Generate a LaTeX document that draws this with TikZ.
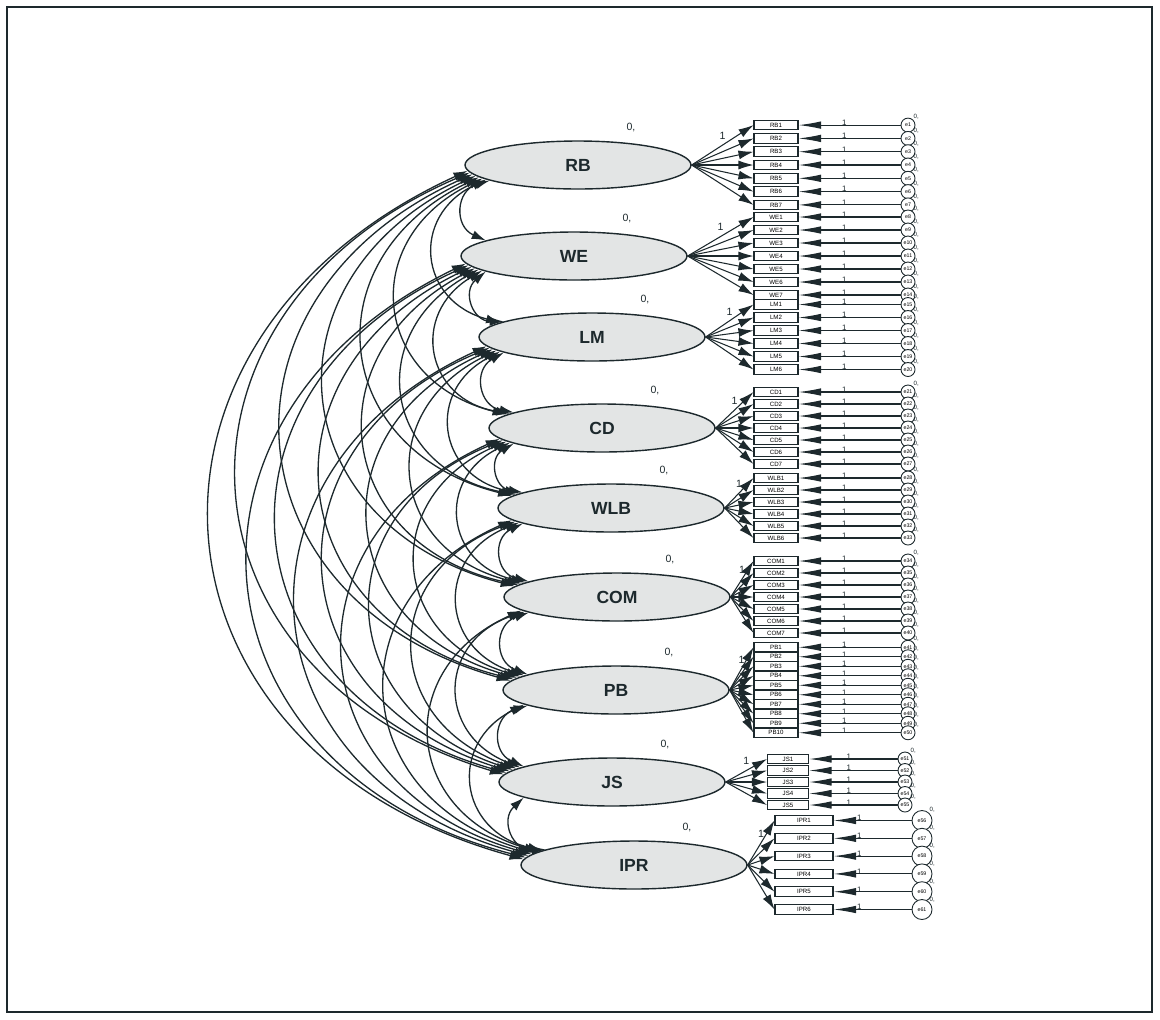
\documentclass[tikz,border=0pt]{standalone}
\usepackage{fontspec}
\setmainfont{Liberation Sans}
\usepackage{xcolor}
\usepackage{tikz}
\usetikzlibrary{positioning,arrows.meta,shapes.geometric,calc}
\definecolor{InkDark}{HTML}{1D292D}
\definecolor{FactorGrey}{HTML}{E3E5E5}
\tikzset{
  factor/.style={ellipse, draw=InkDark, fill=FactorGrey, line width=0.8pt,
    minimum width=4.52cm, minimum height=0.96cm, font=\bfseries, text=InkDark},
  itembox/.style={rectangle, draw=InkDark, line width=0.6pt, fill=white,
    inner sep=0pt, minimum height=0.19cm, font=\fontsize{3.5}{4}\selectfont},
  errnode/.style={circle, draw=InkDark, line width=0.5pt, fill=white,
    inner sep=0pt, font=\fontsize{3}{3.5}\selectfont},
  cov/.style={draw=InkDark, line width=0.75pt, <->, >={Latex[length=2.8mm,width=1.8mm]}},
  load/.style={draw=InkDark, line width=0.6pt, ->, >={Latex[length=3mm,width=1.8mm]}},
  errpath/.style={draw=InkDark, line width=0.6pt, ->, >={Latex[length=4.5mm,width=1.5mm]}},
  parlabel/.style={font=\fontsize{6}{7}\selectfont, text=InkDark, inner sep=1pt},
  tinylabel/.style={font=\fontsize{3.5}{4}\selectfont, text=InkDark, inner sep=0pt},
}
\begin{document}
\begin{tikzpicture}[x=0.02cm, y=-0.02cm]
  \useasboundingbox (0,0) rectangle (1160,1019);
  \draw[InkDark, line width=1.2pt] (7,7) rectangle (1152,1012);
  \foreach \f/\cx/\cy/\n/\s/\st/\bx/\bw/\ex/\ed/\lp in {
      RB/578/165/7/13.3/0/776/0.88/908/0.28/0.55,
      WE/574/256/7/13/7/776/0.88/908/0.28/0.55,
      LM/592/337/6/13/14/776/0.88/908/0.28/0.55,
      CD/602/428/7/12/20/776/0.88/908/0.28/0.55,
      WLB/611/508/6/12/27/776/0.88/908/0.28/0.55,
      COM/617/597/7/12/33/776/0.88/908/0.28/0.55,
      PB/616/690/10/9.5/40/776/0.88/908/0.28/0.55,
      JS/612/782/5/11.5/50/788/0.82/905/0.28/0.55,
      IPR/634/865/6/17.8/55/804/1.16/922/0.4/0.67}{
    \node[factor] (\f) at (\cx,\cy) {\f};
    \node[parlabel] at ($(\f.north)+(53,-13)$) {0,};
    \foreach \k in {1,...,\n}{
      \pgfmathsetmacro\ry{\cy+(\k-(\n+1)/2)*\s}
      \pgfmathtruncatemacro\en{\st+\k}
      \node[itembox, minimum width=\bw cm] (\f\k) at (\bx,\ry) {\f\k};
      \node[errnode, minimum size=\ed cm] (e\f\k) at (\ex,\ry) {e\en};
      \node[tinylabel, anchor=south west] at (e\f\k.north east) {0,};
      \draw[load] (\f.east) -- (\f\k.west);
      \draw[errpath] (e\f\k) -- (\f\k.east)
        node[parlabel, pos=\lp, above=-1.5pt, font=\fontsize{4.5}{5}\selectfont] {1};
    }
    \path (\f.east) -- (\f1.west) node[parlabel, midway, above=2pt] {1};
  }
  \def\faclist{RB,WE,LM,CD,WLB,COM,PB,JS,IPR}
  \foreach \a [count=\i] in \faclist {
    \foreach \b [count=\j] in \faclist {
      \ifnum\j>\i\relax
        \pgfmathtruncatemacro\gap{\j-\i}
        \pgfmathtruncatemacro\sa{191-\gap}
        \pgfmathtruncatemacro\ea{169+\gap}
        \draw[cov] (\a.\sa) to[bend right=70, looseness=1.5] (\b.\ea);
      \fi
    }
  }
\end{tikzpicture}
\end{document}
